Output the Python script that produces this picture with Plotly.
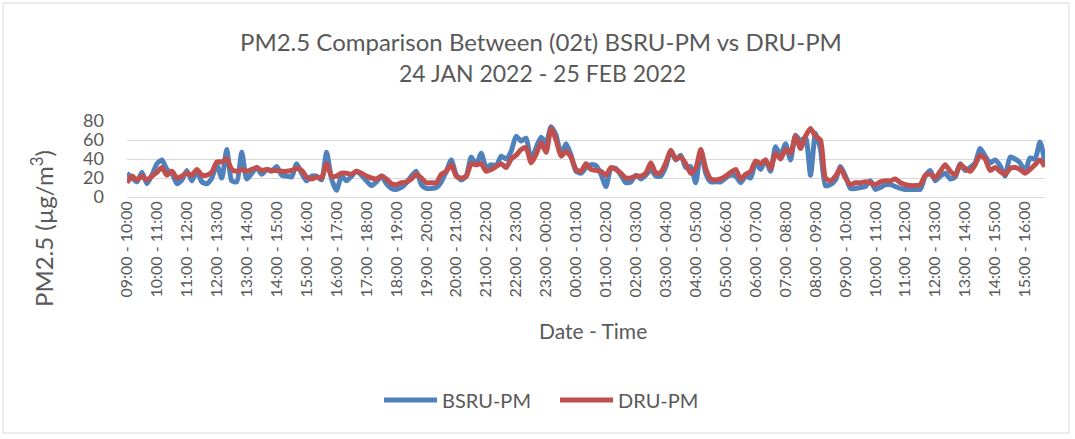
import plotly.graph_objects as go

# 10-minute readings starting at 09:00 (index = 10-min step)
bsru_pm = [
    25, 20, 16, 26, 14, 23, 35, 39, 29, 25, 14, 18, 28, 17, 27, 16, 14, 20, 34, 20,
    50, 17, 16, 47, 19, 25, 31, 24, 29, 27, 32, 23,
    22, 21, 35, 25, 17, 22, 22, 18, 47, 19, 7, 22, 17, 22, 27, 23, 17, 12,
    16, 22, 14, 9, 8, 10, 15, 22, 27, 13, 9, 9,
    10, 16, 27, 39, 23, 18, 22, 42, 34, 46, 31, 34, 33, 43, 40, 48, 64, 59,
    62, 38, 52, 63, 57, 74, 65, 45, 56, 44, 27, 25, 31,
    34, 33, 24, 11, 30, 30, 23, 15, 16, 23, 19, 23, 29, 22, 22, 32, 49, 39,
    44, 31, 32, 15, 49, 25, 16, 16, 16, 20, 23, 22, 15,
    22, 20, 36, 29, 39, 27, 53, 44, 56, 39, 65, 59, 63, 23, 67, 50, 12, 13,
    18, 32, 22, 9, 9, 10, 11, 17, 8, 10, 13, 13, 11,
    9, 8, 8, 8, 8, 22, 28, 17, 22, 25, 19, 21, 35, 28, 31, 36, 51, 43, 36,
    39, 33, 22, 42, 40, 36, 27, 41, 40, 58, 36,
]
dru_pm = [
    15, 22, 18, 22, 18, 22, 26, 31, 23, 27, 20, 22, 25, 23, 29, 23, 23, 26, 37, 37,
    40, 29, 27, 29, 27, 29, 31, 28, 29, 28, 28, 27,
    27, 28, 30, 28, 21, 19, 21, 20, 35, 22, 22, 25, 25, 24, 27, 25, 22, 20,
    19, 22, 19, 14, 13, 15, 16, 19, 24, 20, 15, 15,
    15, 24, 27, 34, 22, 20, 22, 35, 34, 35, 27, 29, 32, 35, 31, 40, 44, 50,
    52, 36, 45, 57, 47, 72, 60, 43, 48, 42, 29, 27, 35,
    29, 28, 27, 23, 31, 29, 25, 20, 20, 22, 22, 25, 36, 25, 26, 36, 49, 40,
    42, 35, 25, 30, 50, 30, 19, 18, 19, 22, 26, 29, 19,
    24, 27, 38, 35, 39, 30, 46, 40, 50, 46, 64, 51, 64, 72, 64, 60, 20, 17,
    22, 30, 20, 13, 15, 15, 16, 15, 13, 16, 17, 17, 19,
    15, 13, 12, 12, 13, 23, 24, 20, 27, 34, 27, 23, 34, 30, 27, 34, 44, 40, 28,
    31, 27, 24, 30, 31, 29, 25, 29, 34, 39, 32,
]
hour_labels = [
    "09:00 - 10:00", "10:00 - 11:00", "11:00 - 12:00", "12:00 - 13:00", "13:00 - 14:00",
    "14:00 - 15:00", "15:00 - 16:00", "16:00 - 17:00", "17:00 - 18:00", "18:00 - 19:00",
    "19:00 - 20:00", "20:00 - 21:00", "21:00 - 22:00", "22:00 - 23:00", "23:00 - 00:00",
    "00:00 - 01:00", "01:00 - 02:00", "02:00 - 03:00", "03:00 - 04:00", "04:00 - 05:00",
    "05:00 - 06:00", "06:00 - 07:00", "07:00 - 08:00", "08:00 - 09:00", "09:00 - 10:00",
    "10:00 - 11:00", "11:00 - 12:00", "12:00 - 13:00", "13:00 - 14:00", "14:00 - 15:00",
    "15:00 - 16:00",
]
steps_per_hour = 6

idx = list(range(len(bsru_pm)))
tick_pos = [i * steps_per_hour for i in range(len(hour_labels))]

GRAY = "#595959"
FONT = "Lato, Carlito, Calibri, sans-serif"

fig = go.Figure()
fig.add_trace(go.Scatter(x=idx, y=bsru_pm, mode="lines", name="BSRU-PM",
                         line=dict(color="#4F81BD", width=5, shape="spline", smoothing=0.6)))
fig.add_trace(go.Scatter(x=list(range(len(dru_pm))), y=dru_pm, mode="lines", name="DRU-PM",
                         line=dict(color="#C0504D", width=5, shape="spline", smoothing=0.6)))

W, H = 1075, 439
ml, mr, mt, mb = 127, 30, 121, 242
pw, ph = W - ml - mr, H - mt - mb

def px_x(x):
    return (x - ml) / pw

def px_y(y):
    return 1 - (y - mt) / ph

fig.update_layout(
    width=W, height=H,
    margin=dict(l=ml, r=mr, t=mt, b=mb),
    paper_bgcolor="white", plot_bgcolor="white",
    font=dict(family=FONT, color=GRAY),
    showlegend=True,
    legend=dict(orientation="h", xref="container", yref="container",
                x=379 / W, xanchor="left", y=1 - 400 / H, yanchor="middle",
                font=dict(size=20, color=GRAY), itemwidth=53,
                entrywidth=108, entrywidthmode="pixels",
                tracegroupgap=0),
    xaxis=dict(range=[0, len(bsru_pm) - 1], tickmode="array", tickvals=tick_pos,
               ticktext=hour_labels, tickangle=-90, tickfont=dict(size=16, color=GRAY),
               showgrid=False, zeroline=False, showline=False, ticks=""),
    yaxis=dict(range=[0, 80], tickvals=[0, 20, 40, 60, 80], tickfont=dict(size=18, color=GRAY),
               showgrid=True, gridcolor="#d9d9d9", gridwidth=1, zeroline=True,
               zerolinecolor="#d9d9d9", zerolinewidth=1, showline=False, ticks="",
               ticklabelstandoff=22),
    annotations=[
        dict(text="PM2.5 Comparison Between (02t) BSRU-PM vs DRU-PM", xref="paper", yref="paper",
             x=px_x(541), y=px_y(42), showarrow=False, font=dict(size=24, color=GRAY),
             xanchor="center", yanchor="middle"),
        dict(text="24 JAN 2022 - 25 FEB 2022", xref="paper", yref="paper",
             x=px_x(542), y=px_y(73), showarrow=False, font=dict(size=23, color=GRAY),
             xanchor="center", yanchor="middle"),
        dict(text="PM2.5 (µg/m<sup>3</sup>)", xref="paper", yref="paper",
             x=px_x(42), y=px_y(229), showarrow=False, textangle=-90,
             font=dict(size=24, color=GRAY), xanchor="center", yanchor="middle"),
        dict(text="Date - Time", xref="paper", yref="paper",
             x=px_x(593), y=px_y(330), showarrow=False, font=dict(size=21, color=GRAY),
             xanchor="center", yanchor="middle"),
    ],
    shapes=[
        dict(type="rect", xref="paper", yref="paper",
             x0=px_x(3), x1=px_x(1069), y0=px_y(433), y1=px_y(3),
             line=dict(color="#d9d9d9", width=1), fillcolor="rgba(0,0,0,0)", layer="below"),
    ],
)

fig.write_html("out.html", config={"displayModeBar": False},
               post_script="document.body.style.margin='0';")
